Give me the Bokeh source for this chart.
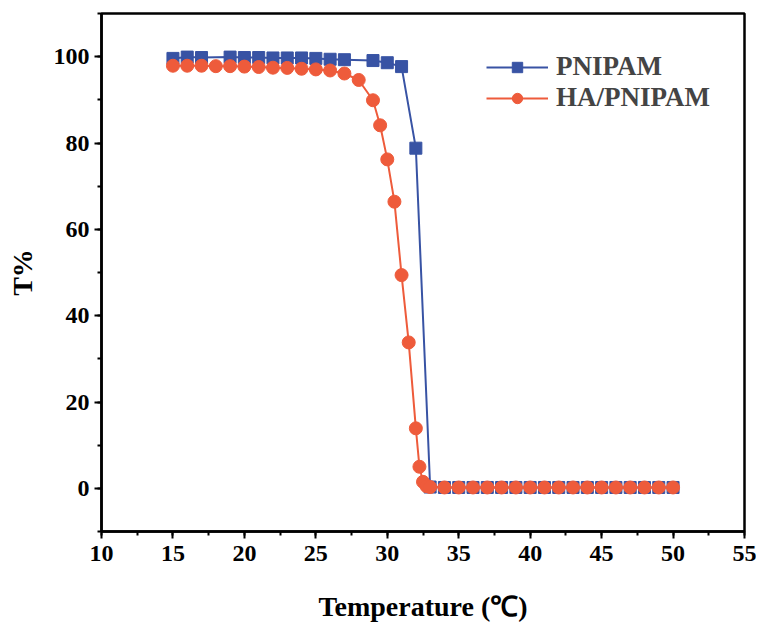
from bokeh.plotting import figure
from bokeh.models import Range1d, Legend, LegendItem, SingleIntervalTicker
from bokeh.embed import file_html
from bokeh.resources import INLINE

# PNIPAM data
pn_x = [15, 16, 17, 19, 20, 21, 22, 23, 24, 25, 26, 27, 29, 30, 31, 32, 33,
        34, 35, 36, 37, 38, 39, 40, 41, 42, 43, 44, 45, 46, 47, 48, 49, 50]
pn_y = [99.6, 99.9, 99.8, 99.9, 99.8, 99.8, 99.7, 99.7, 99.7, 99.6, 99.4, 99.3,
        99.1, 98.6, 97.7, 78.8, 0.3,
        0.2, 0.2, 0.2, 0.2, 0.2, 0.2, 0.2, 0.2, 0.2, 0.2, 0.2, 0.2, 0.2, 0.2, 0.2, 0.2, 0.2]

# HA/PNIPAM data
ha_x = [15, 16, 17, 18, 19, 20, 21, 22, 23, 24, 25, 26, 27, 28, 29, 29.5, 30,
        30.5, 31, 31.5, 32, 32.25, 32.5, 32.75, 33,
        34, 35, 36, 37, 38, 39, 40, 41, 42, 43, 44, 45, 46, 47, 48, 49, 50]
ha_y = [97.9, 97.9, 97.9, 97.8, 97.8, 97.7, 97.6, 97.45, 97.4, 97.2, 97.05, 96.8,
        96.1, 94.6, 89.9, 84.1, 76.2, 66.4, 49.4, 33.8, 13.9, 5.0, 1.5, 0.5, 0.3,
        0.2, 0.2, 0.2, 0.2, 0.2, 0.2, 0.2, 0.2, 0.2, 0.2, 0.2, 0.2, 0.2, 0.2, 0.2, 0.2, 0.2]

x_label = "Temperature (\u2103)"
y_label = "T%"

BLUE = "#3853A4"
ORANGE = "#EE5B3B"
FONT = "Liberation Serif"

p = figure(width=756, height=625, output_backend="svg", toolbar_location=None,
           x_range=Range1d(10, 55), y_range=Range1d(-10, 110),
           min_border_left=101, min_border_right=12, min_border_top=13,
           min_border_bottom=94)

p.grid.visible = False
p.outline_line_color = "black"
p.outline_line_width = 2.5
p.outline_line_alpha = 1.0

l1 = p.line(pn_x, pn_y, line_color=BLUE, line_width=2)
m1 = p.scatter(pn_x, pn_y, marker="square", size=12, fill_color=BLUE, line_color=BLUE)
l2 = p.line(ha_x, ha_y, line_color=ORANGE, line_width=2)
m2 = p.scatter(ha_x, ha_y, marker="circle", size=13, fill_color=ORANGE, line_color=ORANGE)

p.xaxis.ticker = SingleIntervalTicker(interval=5, num_minor_ticks=2)
p.yaxis.ticker = SingleIntervalTicker(interval=20, num_minor_ticks=2)

for ax in (p.xaxis[0], p.yaxis[0]):
    ax.axis_line_width = 2.5
    ax.major_tick_line_width = 2
    ax.minor_tick_line_width = 2
    ax.major_tick_out = 7
    ax.major_tick_in = 0
    ax.minor_tick_out = 4
    ax.minor_tick_in = 0
    ax.major_label_text_font = FONT
    ax.major_label_text_font_style = "bold"
    ax.major_label_text_font_size = "24px"
    ax.major_label_text_color = "black"
    ax.axis_label_text_font = FONT
    ax.axis_label_text_font_style = "bold"
    ax.axis_label_text_font_size = "28px"
    ax.axis_label_text_color = "black"

p.xaxis.axis_label = x_label
p.yaxis.axis_label = y_label
p.xaxis.major_label_standoff = 7
p.xaxis.axis_label_standoff = 27
p.yaxis.major_label_standoff = 5
p.yaxis.axis_label_standoff = 13

legend = Legend(items=[LegendItem(label="PNIPAM", renderers=[l1, m1]),
                       LegendItem(label="HA/PNIPAM", renderers=[l2, m2])],
                location=(385, 418))
legend.border_line_color = None
legend.background_fill_alpha = 0
legend.label_text_font = FONT
legend.label_text_font_style = "bold"
legend.label_text_font_size = "27px"
legend.glyph_width = 62
legend.glyph_height = 26
legend.label_height = 26
legend.spacing = 0
legend.padding = 0
legend.margin = 0
legend.label_standoff = 8
p.add_layout(legend, "center")

open("out.html", "w").write(file_html(p, INLINE))
